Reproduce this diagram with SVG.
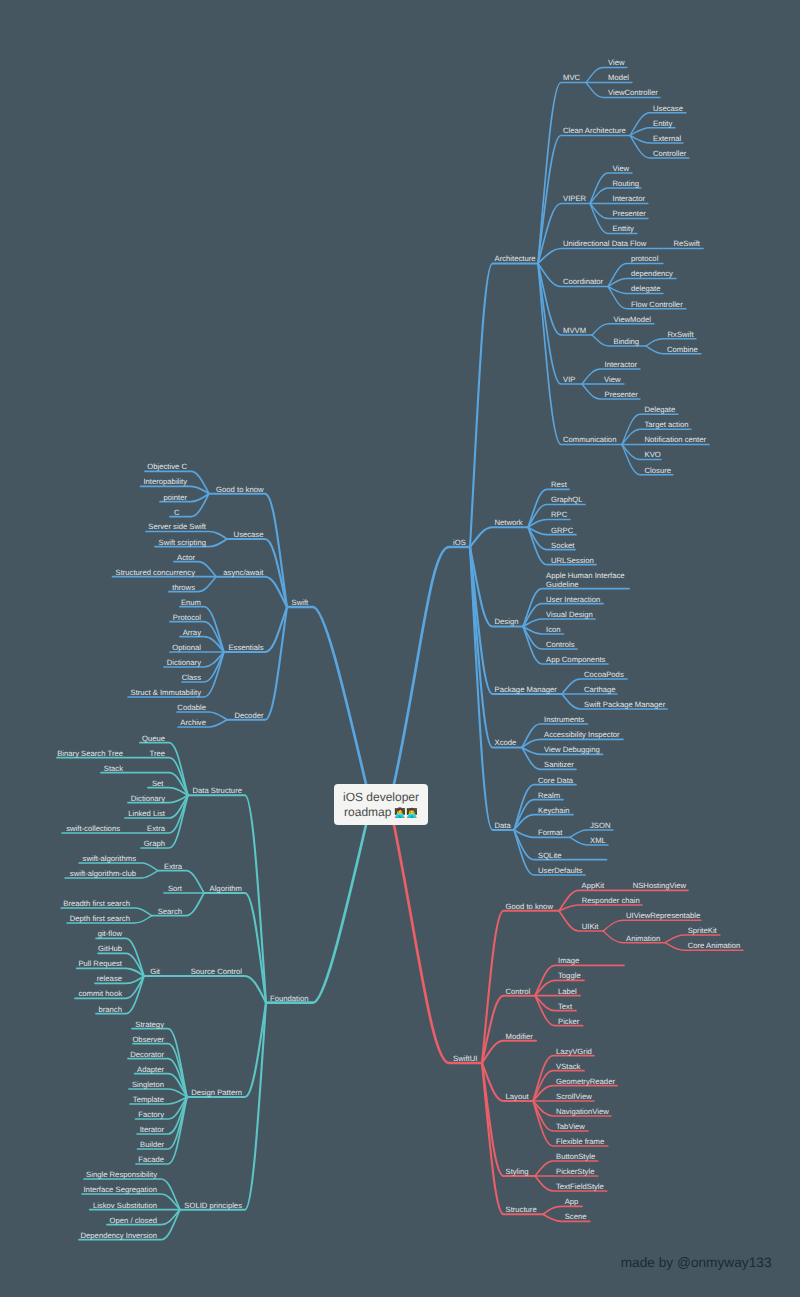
<svg xmlns="http://www.w3.org/2000/svg" width="800" height="1297" viewBox="0 0 800 1297">
<style>
text{font-family:"Liberation Sans",Arial,sans-serif;font-size:7.7px;fill:#e2e7ea;text-rendering:geometricPrecision}
text.l{text-anchor:end}
#connectors path{fill:none;stroke-linecap:round}
.b{stroke:#5aa5de}.t{stroke:#5cc5c5}.r{stroke:#ea5f68}
.w1{stroke-width:2.7}.w2{stroke-width:2.1}.w3{stroke-width:1.7}.w4{stroke-width:1.4}
#root rect{fill:#f4f4f3}
#root text{font-size:12px;fill:#4a4a4a;text-anchor:middle}
#root tspan{font-size:9.3px}
#credit text{font-size:13.7px;fill:#1c2a33}
</style>
<rect width="800" height="1297" fill="#455660"/>
<g id="connectors">
<g class="b">
<path class="w1" d="M394 784C420 665.5 430 547 449 547H470"/>
<path class="w2" d="M470 547C478 405 483.5 263.5 492.5 263.5H538"/>
<path class="w2" d="M470 547C478 537 483.5 527.3 492.5 527.3H528"/>
<path class="w2" d="M470 547C478 587 483.5 626.5 492.5 626.5H523"/>
<path class="w2" d="M470 547C478 620 483.5 694 492.5 694H562"/>
<path class="w2" d="M470 547C478 647 483.5 747.5 492.5 747.5H522"/>
<path class="w2" d="M470 547C478 688.5 483.5 830 492.5 830H514"/>
<path class="w3" d="M538 263.5C546 173 552 82.5 561 82.5H586"/>
<path class="w3" d="M538 263.5C546 199.5 552 135.5 561 135.5H630"/>
<path class="w3" d="M538 263.5C546 233.5 552 203.5 561 203.5H590"/>
<path class="w3" d="M538 263.5C546 256 552 248.5 561 248.5H703"/>
<path class="w3" d="M538 263.5C546 275 552 286.5 561 286.5H608"/>
<path class="w3" d="M538 263.5C546 299 552 335 561 335H592"/>
<path class="w3" d="M538 263.5C546 324 552 384 561 384H582"/>
<path class="w3" d="M538 263.5C546 354 552 444.5 561 444.5H622"/>
<path class="w4" d="M586 82.5C592 75 596 67.5 603 67.5H627"/>
<path class="w4" d="M586 82.5H632"/>
<path class="w4" d="M586 82.5C592 90 596 97.5 603 97.5H660"/>
<path class="w4" d="M630 135.5C637 124 642 112.7 650 112.7H686"/>
<path class="w4" d="M630 135.5C637 131.6 642 127.7 650 127.7H675"/>
<path class="w4" d="M630 135.5C637 139 642 143 650 143H683"/>
<path class="w4" d="M630 135.5C637 147 642 158 650 158H689"/>
<path class="w4" d="M590 203.5C596 188 601 173 608 173H632"/>
<path class="w4" d="M590 203.5C596 196 601 188 608 188H641"/>
<path class="w4" d="M590 203.5H648"/>
<path class="w4" d="M590 203.5C596 211 601 218.5 608 218.5H648"/>
<path class="w4" d="M590 203.5C596 218.5 601 233.5 608 233.5H637"/>
<path class="w4" d="M608 286.5C615 275 619 263.5 627 263.5H663"/>
<path class="w4" d="M608 286.5C615 282.5 619 278.5 627 278.5H676"/>
<path class="w4" d="M608 286.5C615 290 619 293.5 627 293.5H663"/>
<path class="w4" d="M608 286.5C615 297.5 619 308.7 627 308.7H686"/>
<path class="w4" d="M592 335C598 329 602 323.7 609 323.7H654"/>
<path class="w4" d="M592 335C598 340.5 602 346 609 346H646"/>
<path class="w4" d="M646 346C652 342 656 338.7 663 338.7H696"/>
<path class="w4" d="M646 346C652 350 656 353.7 663 353.7H701"/>
<path class="w4" d="M582 384C588 376.5 593 369 600 369H640"/>
<path class="w4" d="M582 384H624"/>
<path class="w4" d="M582 384C588 391.5 593 399 600 399H640"/>
<path class="w4" d="M622 444.5C628 429 633 414.3 640 414.3H678"/>
<path class="w4" d="M622 444.5C628 437 633 429.3 640 429.3H691"/>
<path class="w4" d="M622 444.5H709"/>
<path class="w4" d="M622 444.5C628 452 633 459.5 640 459.5H661"/>
<path class="w4" d="M622 444.5C628 459.5 633 474.7 640 474.7H673"/>
<path class="w3" d="M528 527.3C535 508 539 489.3 547 489.3H569"/>
<path class="w3" d="M528 527.3C535 516 539 504.5 547 504.5H585"/>
<path class="w3" d="M528 527.3C535 523 539 519.5 547 519.5H570"/>
<path class="w3" d="M528 527.3C535 531 539 534.7 547 534.7H576"/>
<path class="w3" d="M528 527.3C535 538.5 539 549.7 547 549.7H575"/>
<path class="w3" d="M528 527.3C535 546 539 564.7 547 564.7H596"/>
<path class="w3" d="M523 626.5C530 607.5 534 588.7 542 588.7H629"/>
<path class="w3" d="M523 626.5C530 615 534 603.7 542 603.7H603"/>
<path class="w3" d="M523 626.5C530 623 534 619 542 619H595"/>
<path class="w3" d="M523 626.5C530 630 534 634 542 634H563.5"/>
<path class="w3" d="M523 626.5C530 638 534 649 542 649H577"/>
<path class="w3" d="M523 626.5C530 645 534 664 542 664H608"/>
<path class="w3" d="M562 694C568 686.5 573 679 580 679H627"/>
<path class="w3" d="M562 694H617"/>
<path class="w3" d="M562 694C568 701.5 573 709 580 709H667"/>
<path class="w3" d="M522 747.5C528 736 533 724 540 724H587.5"/>
<path class="w3" d="M522 747.5C528 743 533 739.3 540 739.3H623"/>
<path class="w3" d="M522 747.5C528 751 533 754.3 540 754.3H602.5"/>
<path class="w3" d="M522 747.5C528 758 533 769.3 540 769.3H576"/>
<path class="w3" d="M514 830C521 807 526 784.7 534 784.7H576"/>
<path class="w3" d="M514 830C521 815 526 799.7 534 799.7H563"/>
<path class="w3" d="M514 830C521 822 526 814.7 534 814.7H573"/>
<path class="w3" d="M514 830C521 833.5 526 837.3 534 837.3H570"/>
<path class="w3" d="M514 830C521 845 526 859.7 534 859.7H606.5"/>
<path class="w3" d="M514 830C521 852.5 526 875 534 875H585"/>
<path class="w4" d="M570 837.3C576 833.5 580 830 587 830H613"/>
<path class="w4" d="M570 837.3C576 841 580 845 587 845H608"/>
<path class="w1" d="M366 784C345 695 325 607 313 607H287"/>
<path class="w2" d="M287 607C279 550 274 493.7 265 493.7H209"/>
<path class="w2" d="M287 607C279 573 274 539 265 539H227"/>
<path class="w2" d="M287 607C279 592 274 576.7 265 576.7H216"/>
<path class="w2" d="M287 607C279 629.5 274 652 265 652H224"/>
<path class="w2" d="M287 607C279 663 274 719.7 265 719.7H227"/>
<path class="w3" d="M209 493.7C203 482.5 198 471.3 191 471.3H145"/>
<path class="w3" d="M209 493.7C203 490 198 486.3 191 486.3H140.5"/>
<path class="w3" d="M209 493.7C203 497.7 198 501.7 191 501.7H160"/>
<path class="w3" d="M209 493.7C203 505 198 516.7 191 516.7H170"/>
<path class="w3" d="M227 539C221 535 216 531.5 209 531.5H146"/>
<path class="w3" d="M227 539C221 543 216 546.7 209 546.7H155"/>
<path class="w3" d="M216 576.7C210 569 205 561.7 198 561.7H174"/>
<path class="w3" d="M216 576.7H112.5"/>
<path class="w3" d="M216 576.7C210 584 205 591.7 198 591.7H169"/>
<path class="w3" d="M224 652C217 629 212 606.7 204 606.7H180"/>
<path class="w3" d="M224 652C217 637 212 621.7 204 621.7H170"/>
<path class="w3" d="M224 652C217 644 212 636.7 204 636.7H180"/>
<path class="w3" d="M224 652H170"/>
<path class="w3" d="M224 652C217 659.5 212 667 204 667H164"/>
<path class="w3" d="M224 652C217 667 212 682 204 682H182"/>
<path class="w3" d="M224 652C217 674.5 212 697 204 697H128"/>
<path class="w3" d="M227 719.7C221 716 216 712 209 712H177"/>
<path class="w3" d="M227 719.7C221 723 216 727 209 727H178"/>
</g>
<g class="t">
<path class="w1" d="M366 825C345 914 325 1002.7 313 1002.7H266"/>
<path class="w2" d="M266 1002.7C259 899 253 795.3 245 795.3H188"/>
<path class="w2" d="M266 1002.7C259 948 253 893 245 893H204"/>
<path class="w2" d="M266 1002.7C259 989 253 976 245 976H144"/>
<path class="w2" d="M266 1002.7C259 1050 253 1097 245 1097H187"/>
<path class="w2" d="M266 1002.7C259 1106 253 1209.7 245 1209.7H180"/>
<path class="w3" d="M188 795.3C181 769 177 742.7 169 742.7H140"/>
<path class="w3" d="M188 795.3C181 776.5 177 757.7 169 757.7H57"/>
<path class="w3" d="M188 795.3C181 784 177 772.7 169 772.7H101"/>
<path class="w3" d="M188 795.3C181 791.5 177 787.7 169 787.7H148"/>
<path class="w3" d="M188 795.3C181 799 177 802.7 169 802.7H128"/>
<path class="w3" d="M188 795.3C181 806.5 177 818 169 818H125"/>
<path class="w3" d="M188 795.3C181 814 177 833 169 833H62"/>
<path class="w3" d="M188 795.3C181 821.5 177 848 169 848H141"/>
<path class="w3" d="M204 893C198 882 193 870.7 186 870.7H158"/>
<path class="w3" d="M204 893H164"/>
<path class="w3" d="M204 893C198 904 193 915.7 186 915.7H152"/>
<path class="w4" d="M158 870.7C152 867 148 863 142 863H79"/>
<path class="w4" d="M158 870.7C152 874 148 878 142 878H65"/>
<path class="w4" d="M152 915.7C146 912 142 908 135 908H61"/>
<path class="w4" d="M152 915.7C146 919 142 923 135 923H67"/>
<path class="w3" d="M144 976C138 957 133 938.3 126 938.3H96"/>
<path class="w3" d="M144 976C138 965 133 953.3 126 953.3H98"/>
<path class="w3" d="M144 976C138 972 133 968.3 126 968.3H76.7"/>
<path class="w3" d="M144 976C138 980 133 983.3 126 983.3H95"/>
<path class="w3" d="M144 976C138 987 133 998.3 126 998.3H75"/>
<path class="w3" d="M144 976C138 995 133 1013.7 126 1013.7H96"/>
<path class="w3" d="M187 1097C180 1063 176 1028.7 168 1028.7H132"/>
<path class="w3" d="M187 1097C180 1070 176 1043.7 168 1043.7H133"/>
<path class="w3" d="M187 1097C180 1078 176 1058.7 168 1058.7H128"/>
<path class="w3" d="M187 1097C180 1085 176 1073.7 168 1073.7H134.7"/>
<path class="w3" d="M187 1097C180 1093 176 1089 168 1089H129"/>
<path class="w3" d="M187 1097C180 1100.5 176 1104 168 1104H130"/>
<path class="w3" d="M187 1097C180 1108 176 1119 168 1119H135.5"/>
<path class="w3" d="M187 1097C180 1115.5 176 1134 168 1134H137"/>
<path class="w3" d="M187 1097C180 1123 176 1149 168 1149H137.5"/>
<path class="w3" d="M187 1097C180 1130.5 176 1164 168 1164H136"/>
<path class="w3" d="M180 1209.7C173 1194 169 1179 161 1179H84"/>
<path class="w3" d="M180 1209.7C173 1202 169 1194 161 1194H82"/>
<path class="w3" d="M180 1209.7H89.7"/>
<path class="w3" d="M180 1209.7C173 1217 169 1224.7 161 1224.7H107"/>
<path class="w3" d="M180 1209.7C173 1224.7 169 1239.7 161 1239.7H79"/>
</g>
<g class="r">
<path class="w1" d="M394 825C418 944 432 1063 449 1063H482"/>
<path class="w2" d="M482 1063C489.5 987 495 910.7 503.5 910.7H559"/>
<path class="w2" d="M482 1063C489.5 1029 495 995.7 503.5 995.7H535"/>
<path class="w2" d="M482 1063C489.5 1052 495 1040.7 503.5 1040.7H536"/>
<path class="w2" d="M482 1063C489.5 1082 495 1101 503.5 1101H533"/>
<path class="w2" d="M482 1063C489.5 1119.5 495 1176 503.5 1176H535"/>
<path class="w2" d="M482 1063C489.5 1139 495 1214.3 503.5 1214.3H543"/>
<path class="w3" d="M559 910.7C566 900.5 571 890.3 579 890.3H688"/>
<path class="w3" d="M559 910.7C566 908 571 905 579 905H642"/>
<path class="w3" d="M559 910.7C566 921 571 931 579 931H603"/>
<path class="w4" d="M603 931C610 925.5 615 920.3 623 920.3H701"/>
<path class="w4" d="M603 931C610 937 615 942.7 623 942.7H665"/>
<path class="w4" d="M665 942.7C672 939 676 935 684 935H720"/>
<path class="w4" d="M665 942.7C672 946.5 676 950.3 684 950.3H743"/>
<path class="w3" d="M535 995.7C542 980.5 547 965.3 555 965.3H624"/>
<path class="w3" d="M535 995.7C542 988 547 980.3 555 980.3H584"/>
<path class="w3" d="M535 995.7H580"/>
<path class="w3" d="M535 995.7C542 1003 547 1010.7 555 1010.7H576"/>
<path class="w3" d="M535 995.7C542 1011 547 1025.7 555 1025.7H582.7"/>
<path class="w3" d="M533 1101C540 1078 545 1055.7 553 1055.7H594"/>
<path class="w3" d="M533 1101C540 1086 545 1070.7 553 1070.7H584"/>
<path class="w3" d="M533 1101C540 1093 545 1085.7 553 1085.7H617"/>
<path class="w3" d="M533 1101H594"/>
<path class="w3" d="M533 1101C540 1108.5 545 1116 553 1116H611"/>
<path class="w3" d="M533 1101C540 1116 545 1131 553 1131H588"/>
<path class="w3" d="M533 1101C540 1123.5 545 1146 553 1146H607.7"/>
<path class="w3" d="M535 1176C541 1168.5 546 1161 553 1161H597.7"/>
<path class="w3" d="M535 1176H597.7"/>
<path class="w3" d="M535 1176C541 1183.5 546 1191 553 1191H606.7"/>
<path class="w3" d="M543 1214.3C549 1210 554 1206.3 561 1206.3H582"/>
<path class="w3" d="M543 1214.3C549 1218 554 1221.3 561 1221.3H589.7"/>
</g>
</g>
<g id="root"><rect x="334" y="784" width="94" height="41" rx="4"/><text x="381" y="801.3">iOS developer</text><text x="381" y="816">roadmap <tspan>👩‍💻👨‍💻</tspan></text></g>
<g id="credit"><text x="620.7" y="1267">made by @onmyway133</text></g>
<g id="ios"><text x="453" y="544.8">iOS</text></g>
<g id="architecture"><text x="494.5" y="261.3">Architecture</text></g>
<g id="mvc"><text x="563" y="80.3">MVC</text></g>
<g id="mvc-view"><text x="608" y="65.3">View</text></g>
<g id="mvc-model"><text x="608" y="80.3">Model</text></g>
<g id="mvc-viewcontroller"><text x="608" y="95.3">ViewController</text></g>
<g id="clean"><text x="563" y="133.3">Clean Architecture</text></g>
<g id="clean-usecase"><text x="653" y="110.5">Usecase</text></g>
<g id="clean-entity"><text x="653" y="125.5">Entity</text></g>
<g id="clean-external"><text x="653" y="140.8">External</text></g>
<g id="clean-controller"><text x="653" y="155.8">Controller</text></g>
<g id="viper"><text x="563" y="201.3">VIPER</text></g>
<g id="viper-view"><text x="612.5" y="170.8">View</text></g>
<g id="viper-routing"><text x="612.5" y="185.8">Routing</text></g>
<g id="viper-interactor"><text x="612.5" y="201.3">Interactor</text></g>
<g id="viper-presenter"><text x="612.5" y="216.3">Presenter</text></g>
<g id="viper-enttity"><text x="612.5" y="231.3">Enttity</text></g>
<g id="udf"><text x="563" y="246.3">Unidirectional Data Flow</text></g>
<g id="reswift"><text x="673.5" y="246.3">ReSwift</text></g>
<g id="coordinator"><text x="563" y="284.3">Coordinator</text></g>
<g id="coord-protocol"><text x="631" y="261.3">protocol</text></g>
<g id="coord-dependency"><text x="631" y="276.3">dependency</text></g>
<g id="coord-delegate"><text x="631" y="291.3">delegate</text></g>
<g id="coord-flow"><text x="631" y="306.5">Flow Controller</text></g>
<g id="mvvm"><text x="563" y="332.8">MVVM</text></g>
<g id="mvvm-viewmodel"><text x="613.5" y="321.5">ViewModel</text></g>
<g id="mvvm-binding"><text x="613.5" y="343.8">Binding</text></g>
<g id="rxswift"><text x="667.5" y="336.5">RxSwift</text></g>
<g id="combine"><text x="667" y="351.5">Combine</text></g>
<g id="vip"><text x="563" y="381.8">VIP</text></g>
<g id="vip-interactor"><text x="604.5" y="366.8">Interactor</text></g>
<g id="vip-view"><text x="604" y="381.8">View</text></g>
<g id="vip-presenter"><text x="604.5" y="396.8">Presenter</text></g>
<g id="communication"><text x="563" y="442.3">Communication</text></g>
<g id="comm-delegate"><text x="644.5" y="412.1">Delegate</text></g>
<g id="comm-target"><text x="644.5" y="427.1">Target action</text></g>
<g id="comm-notification"><text x="644.5" y="442.3">Notification center</text></g>
<g id="comm-kvo"><text x="644.5" y="457.3">KVO</text></g>
<g id="comm-closure"><text x="644.5" y="472.5">Closure</text></g>
<g id="network"><text x="494.5" y="525.1">Network</text></g>
<g id="net-rest"><text x="551" y="487.1">Rest</text></g>
<g id="net-graphql"><text x="551" y="502.3">GraphQL</text></g>
<g id="net-rpc"><text x="551" y="517.3">RPC</text></g>
<g id="net-grpc"><text x="551" y="532.5">GRPC</text></g>
<g id="net-socket"><text x="551" y="547.5">Socket</text></g>
<g id="net-urlsession"><text x="551" y="562.5">URLSession</text></g>
<g id="design"><text x="494.5" y="624.3">Design</text></g>
<g id="design-apple"><text x="546" y="577.5">Apple Human Interface</text><text x="546" y="586.5">Guideline</text></g>
<g id="design-user"><text x="546" y="601.5">User Interaction</text></g>
<g id="design-visual"><text x="546" y="616.8">Visual Design</text></g>
<g id="design-icon"><text x="546" y="631.8">Icon</text></g>
<g id="design-controls"><text x="546" y="646.8">Controls</text></g>
<g id="design-app"><text x="546" y="661.8">App Components</text></g>
<g id="pm"><text x="494.5" y="691.8">Package Manager</text></g>
<g id="pm-cocoapods"><text x="584" y="676.8">CocoaPods</text></g>
<g id="pm-carthage"><text x="584" y="691.8">Carthage</text></g>
<g id="pm-spm"><text x="584" y="706.8">Swift Package Manager</text></g>
<g id="xcode"><text x="494.5" y="745.3">Xcode</text></g>
<g id="xc-instruments"><text x="544" y="721.8">Instruments</text></g>
<g id="xc-accessibility"><text x="544" y="737.1">Accessibility Inspector</text></g>
<g id="xc-debug"><text x="544" y="752.1">View Debugging</text></g>
<g id="xc-sanitizer"><text x="544" y="767.1">Sanitizer</text></g>
<g id="data"><text x="494.5" y="827.8">Data</text></g>
<g id="data-core"><text x="538" y="782.5">Core Data</text></g>
<g id="data-realm"><text x="538" y="797.5">Realm</text></g>
<g id="data-keychain"><text x="538" y="812.5">Keychain</text></g>
<g id="data-format"><text x="538" y="835.1">Format</text></g>
<g id="format-json"><text x="590" y="827.8">JSON</text></g>
<g id="format-xml"><text x="590" y="842.8">XML</text></g>
<g id="data-sqlite"><text x="538" y="857.5">SQLite</text></g>
<g id="data-userdefaults"><text x="538" y="872.8">UserDefaults</text></g>
<g id="swift"><text x="291.5" y="604.8">Swift</text></g>
<g id="gtk"><text class="l" x="263.5" y="491.5">Good to know</text></g>
<g id="gtk-objc"><text class="l" x="187" y="469.1">Objective C</text></g>
<g id="gtk-interop"><text class="l" x="187" y="484.1">Interopability</text></g>
<g id="gtk-pointer"><text class="l" x="187" y="499.5">pointer</text></g>
<g id="gtk-c"><text class="l" x="179.5" y="514.5">C</text></g>
<g id="usecase"><text class="l" x="263.5" y="536.8">Usecase</text></g>
<g id="uc-server"><text class="l" x="206" y="529.3">Server side Swift</text></g>
<g id="uc-scripting"><text class="l" x="206" y="544.5">Swift scripting</text></g>
<g id="async"><text class="l" x="263.5" y="574.5">async/await</text></g>
<g id="async-actor"><text class="l" x="195" y="559.5">Actor</text></g>
<g id="async-structured"><text class="l" x="195" y="574.5">Structured concurrency</text></g>
<g id="async-throws"><text class="l" x="195" y="589.5">throws</text></g>
<g id="essentials"><text class="l" x="263.5" y="649.8">Essentials</text></g>
<g id="ess-enum"><text class="l" x="201" y="604.5">Enum</text></g>
<g id="ess-protocol"><text class="l" x="201" y="619.5">Protocol</text></g>
<g id="ess-array"><text class="l" x="201" y="634.5">Array</text></g>
<g id="ess-optional"><text class="l" x="201" y="649.8">Optional</text></g>
<g id="ess-dictionary"><text class="l" x="201" y="664.8">Dictionary</text></g>
<g id="ess-class"><text class="l" x="201" y="679.8">Class</text></g>
<g id="ess-struct"><text class="l" x="201" y="694.8">Struct &amp; Immutability</text></g>
<g id="decoder"><text class="l" x="263.5" y="717.5">Decoder</text></g>
<g id="dec-codable"><text class="l" x="206" y="709.8">Codable</text></g>
<g id="dec-archive"><text class="l" x="206" y="724.8">Archive</text></g>
<g id="foundation"><text x="270" y="1000.5">Foundation</text></g>
<g id="ds"><text class="l" x="242" y="793.1">Data Structure</text></g>
<g id="ds-queue"><text class="l" x="165" y="740.5">Queue</text></g>
<g id="ds-tree"><text class="l" x="165" y="755.5">Tree</text></g>
<g id="ds-bst"><text class="l" x="123" y="755.5">Binary Search Tree</text></g>
<g id="ds-stack"><text class="l" x="123" y="770.5">Stack</text></g>
<g id="ds-set"><text class="l" x="163.5" y="785.5">Set</text></g>
<g id="ds-dictionary"><text class="l" x="165" y="800.5">Dictionary</text></g>
<g id="ds-linked"><text class="l" x="165" y="815.8">Linked List</text></g>
<g id="ds-extra"><text class="l" x="165" y="830.8">Extra</text></g>
<g id="ds-collections"><text class="l" x="120" y="830.8">swift-collections</text></g>
<g id="ds-graph"><text class="l" x="165" y="845.8">Graph</text></g>
<g id="algorithm"><text class="l" x="242" y="890.8">Algorithm</text></g>
<g id="alg-extra"><text class="l" x="182" y="868.5">Extra</text></g>
<g id="alg-swift"><text class="l" x="136" y="860.8">swift-algorithms</text></g>
<g id="alg-club"><text class="l" x="136" y="875.8">swift-algorithm-club</text></g>
<g id="alg-sort"><text class="l" x="182" y="890.8">Sort</text></g>
<g id="alg-search"><text class="l" x="182" y="913.5">Search</text></g>
<g id="alg-breadth"><text class="l" x="130" y="905.8">Breadth first search</text></g>
<g id="alg-depth"><text class="l" x="130" y="920.8">Depth first search</text></g>
<g id="source"><text class="l" x="242" y="973.8">Source Control</text></g>
<g id="git"><text class="l" x="160" y="973.8">Git</text></g>
<g id="git-flow"><text class="l" x="122" y="936.1">git-flow</text></g>
<g id="git-github"><text class="l" x="122" y="951.1">GitHub</text></g>
<g id="git-pull"><text class="l" x="122" y="966.1">Pull Request</text></g>
<g id="git-release"><text class="l" x="122" y="981.1">release</text></g>
<g id="git-hook"><text class="l" x="122" y="996.1">commit hook</text></g>
<g id="git-branch"><text class="l" x="122" y="1011.5">branch</text></g>
<g id="dp"><text class="l" x="242" y="1094.8">Design Pattern</text></g>
<g id="dp-strategy"><text class="l" x="164" y="1026.5">Strategy</text></g>
<g id="dp-observer"><text class="l" x="164" y="1041.5">Observer</text></g>
<g id="dp-decorator"><text class="l" x="164" y="1056.5">Decorator</text></g>
<g id="dp-adapter"><text class="l" x="164" y="1071.5">Adapter</text></g>
<g id="dp-singleton"><text class="l" x="164" y="1086.8">Singleton</text></g>
<g id="dp-template"><text class="l" x="164" y="1101.8">Template</text></g>
<g id="dp-factory"><text class="l" x="164" y="1116.8">Factory</text></g>
<g id="dp-iterator"><text class="l" x="164" y="1131.8">Iterator</text></g>
<g id="dp-builder"><text class="l" x="164" y="1146.8">Builder</text></g>
<g id="dp-facade"><text class="l" x="164" y="1161.8">Facade</text></g>
<g id="solid"><text class="l" x="242" y="1207.5">SOLID principles</text></g>
<g id="solid-s"><text class="l" x="157" y="1176.8">Single Responsibility</text></g>
<g id="solid-i"><text class="l" x="157" y="1191.8">Interface Segregation</text></g>
<g id="solid-l"><text class="l" x="157" y="1207.5">Liskov Substitution</text></g>
<g id="solid-o"><text class="l" x="157" y="1222.5">Open / closed</text></g>
<g id="solid-d"><text class="l" x="157" y="1237.5">Dependency Inversion</text></g>
<g id="swiftui"><text x="453" y="1060.8">SwiftUI</text></g>
<g id="sui-gtk"><text x="505.5" y="908.5">Good to know</text></g>
<g id="sui-appkit"><text x="581.5" y="888.1">AppKit</text></g>
<g id="sui-nshosting"><text x="632.7" y="888.1">NSHostingView</text></g>
<g id="sui-responder"><text x="581.7" y="902.8">Responder chain</text></g>
<g id="sui-uikit"><text x="581.7" y="928.8">UIKit</text></g>
<g id="sui-uivr"><text x="626" y="918.1">UIViewRepresentable</text></g>
<g id="sui-animation"><text x="626" y="940.5">Animation</text></g>
<g id="sui-spritekit"><text x="687.7" y="932.8">SpriteKit</text></g>
<g id="sui-coreanim"><text x="687.7" y="948.1">Core Animation</text></g>
<g id="control"><text x="505.5" y="993.5">Control</text></g>
<g id="ctl-image"><text x="558" y="963.1">Image</text></g>
<g id="ctl-toggle"><text x="558" y="978.1">Toggle</text></g>
<g id="ctl-label"><text x="558" y="993.5">Label</text></g>
<g id="ctl-text"><text x="558" y="1008.5">Text</text></g>
<g id="ctl-picker"><text x="558" y="1023.5">Picker</text></g>
<g id="modifier"><text x="505.5" y="1038.5">Modifier</text></g>
<g id="layout"><text x="505.5" y="1098.8">Layout</text></g>
<g id="lay-lazy"><text x="556" y="1053.5">LazyVGrid</text></g>
<g id="lay-vstack"><text x="556" y="1068.5">VStack</text></g>
<g id="lay-geometry"><text x="556" y="1083.5">GeometryReader</text></g>
<g id="lay-scroll"><text x="556" y="1098.8">ScrollView</text></g>
<g id="lay-nav"><text x="556" y="1113.8">NavigationView</text></g>
<g id="lay-tab"><text x="556" y="1128.8">TabView</text></g>
<g id="lay-flex"><text x="556" y="1143.8">Flexible frame</text></g>
<g id="styling"><text x="505.5" y="1173.8">Styling</text></g>
<g id="sty-button"><text x="556" y="1158.8">ButtonStyle</text></g>
<g id="sty-picker"><text x="556" y="1173.8">PickerStyle</text></g>
<g id="sty-textfield"><text x="556" y="1188.8">TextFieldStyle</text></g>
<g id="structure"><text x="505.5" y="1212.1">Structure</text></g>
<g id="str-app"><text x="564.7" y="1204.1">App</text></g>
<g id="str-scene"><text x="564.7" y="1219.1">Scene</text></g>
</svg>
